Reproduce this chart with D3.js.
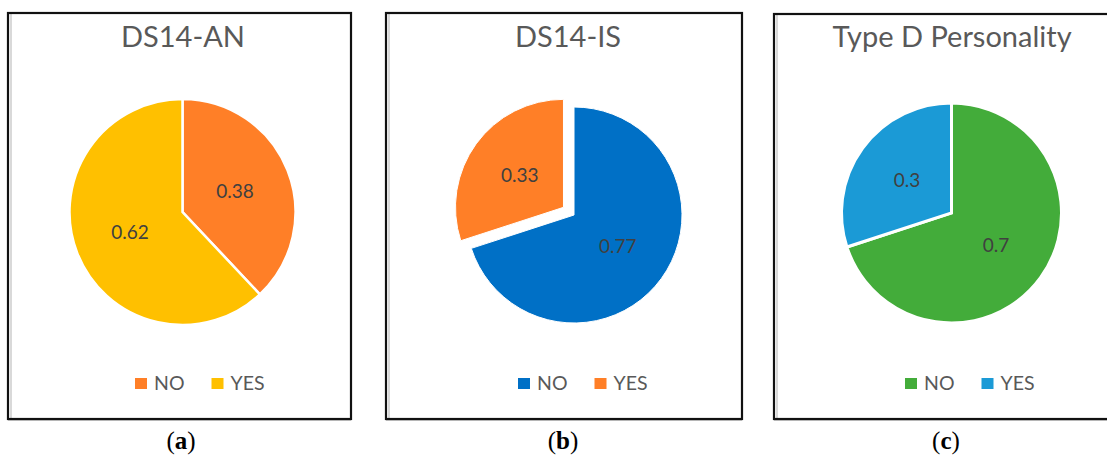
<!DOCTYPE html>
<html>
<head>
<meta charset="utf-8">
<script src="https://cdn.jsdelivr.net/npm/d3@7"></script>
<style>
  html, body { margin: 0; padding: 0; background: #fff; }
  svg { display: block; }
</style>
</head>
<body>
<svg id="chart" width="1107" height="455"></svg>
<script>
// Chart data
const panelTitles = ["DS14-AN", "DS14-IS", "Type D Personality"];
const panelTags = ["a", "b", "c"];
const categories = ["NO", "YES"];
const anValues = [0.38, 0.62];
const isValues = [0.77, 0.33];
const typeDValues = [0.7, 0.3];
const anColors = ["#FF7F27", "#FFC000"];
const isColors = ["#0070C6", "#FF7F27"];
const typeDColors = ["#43AC3A", "#1B9AD6"];

const panels = [
  { title: panelTitles[0], tag: panelTags[0], values: anValues, colors: anColors,
    box: [8, 13, 343, 406], titleX: 183, cx: 182.5, cy: 212, r: 113, explode: [0, 0], stroke: 2.5,
    legendStart: 135, captionX: 181 },
  { title: panelTitles[1], tag: panelTags[1], values: isValues, colors: isColors,
    box: [386, 13, 356, 406], titleX: 568, cx: 574, cy: 215, r: 108, explode: [0, 13], stroke: 1,
    legendStart: 518, captionX: 563 },
  { title: panelTitles[2], tag: panelTags[2], values: typeDValues, colors: typeDColors,
    box: [774, 14, 360, 405], titleX: 952, cx: 951.5, cy: 213, r: 110, explode: [0, 0], stroke: 3,
    legendStart: 905, captionX: 946 }
];

const svg = d3.select("#chart");
const font = "Lato, 'Open Sans', sans-serif";

panels.forEach(p => {
  const g = svg.append("g");
  const [bx, by, bw, bh] = p.box;

  // frame with a faint inner shade on the left and bottom
  g.append("rect").attr("x", bx + 2).attr("y", by + 1).attr("width", 2).attr("height", bh - 2)
    .attr("fill", "#d9d9d9");
  g.append("line").attr("x1", bx).attr("x2", bx + bw).attr("y1", by + bh + 1.5).attr("y2", by + bh + 1.5)
    .attr("stroke", "#c8c8c8").attr("stroke-width", 1);
  g.append("rect").attr("x", bx).attr("y", by).attr("width", bw).attr("height", bh)
    .attr("fill", "none").attr("stroke", "#111").attr("stroke-width", 2.2);

  // title
  g.append("text").attr("x", p.titleX)
    .attr("y", 47).attr("text-anchor", "middle")
    .attr("font-family", font).attr("font-size", 29).attr("fill", "#595959")
    .text(p.title);

  // pie
  const pie = d3.pie().sort(null).value(d => d);
  const arcs = pie(p.values);
  const arc = d3.arc().innerRadius(0).outerRadius(p.r);
  const pg = g.append("g").attr("transform", `translate(${p.cx},${p.cy})`);

  const offset = (d, i) => {
    const dist = p.explode[i] || 0;
    const mid = (d.startAngle + d.endAngle) / 2;
    return [Math.sin(mid) * dist, -Math.cos(mid) * dist];
  };

  arcs.forEach((d, i) => {
    const [ox, oy] = offset(d, i);
    const sg = pg.append("g").attr("transform", `translate(${ox},${oy})`);
    sg.append("path").attr("d", arc(d)).attr("fill", p.colors[i])
      .attr("stroke", "#fff").attr("stroke-width", p.stroke).attr("stroke-linejoin", "miter");
    const [lx, ly] = arc.centroid(d);
    sg.append("text").attr("x", lx).attr("y", ly).attr("dy", "0.35em")
      .attr("text-anchor", "middle")
      .attr("font-family", font).attr("font-size", 19).attr("fill", "#404040")
      .text(d.data);
  });

  // legend
  let x = p.legendStart;
  categories.forEach((c, i) => {
    const it = g.append("g").attr("transform", `translate(${x},0)`);
    it.append("rect").attr("x", 0).attr("y", 378).attr("width", 12).attr("height", 11)
      .attr("fill", p.colors[i]);
    const t = it.append("text").attr("x", 19).attr("y", 390)
      .attr("font-family", font).attr("font-size", 19.5).attr("fill", "#595959").text(c);
    x += 19 + t.node().getComputedTextLength() + 27;
  });

  // caption below the frame
  const cap = g.append("text").attr("x", p.captionX).attr("y", 449).attr("text-anchor", "middle")
    .attr("font-family", "'Liberation Serif', 'DejaVu Serif', serif").attr("font-size", 25).attr("fill", "#000");
  cap.append("tspan").text("(");
  cap.append("tspan").attr("font-weight", "bold").text(p.tag);
  cap.append("tspan").text(")");
});
</script>
</body>
</html>
